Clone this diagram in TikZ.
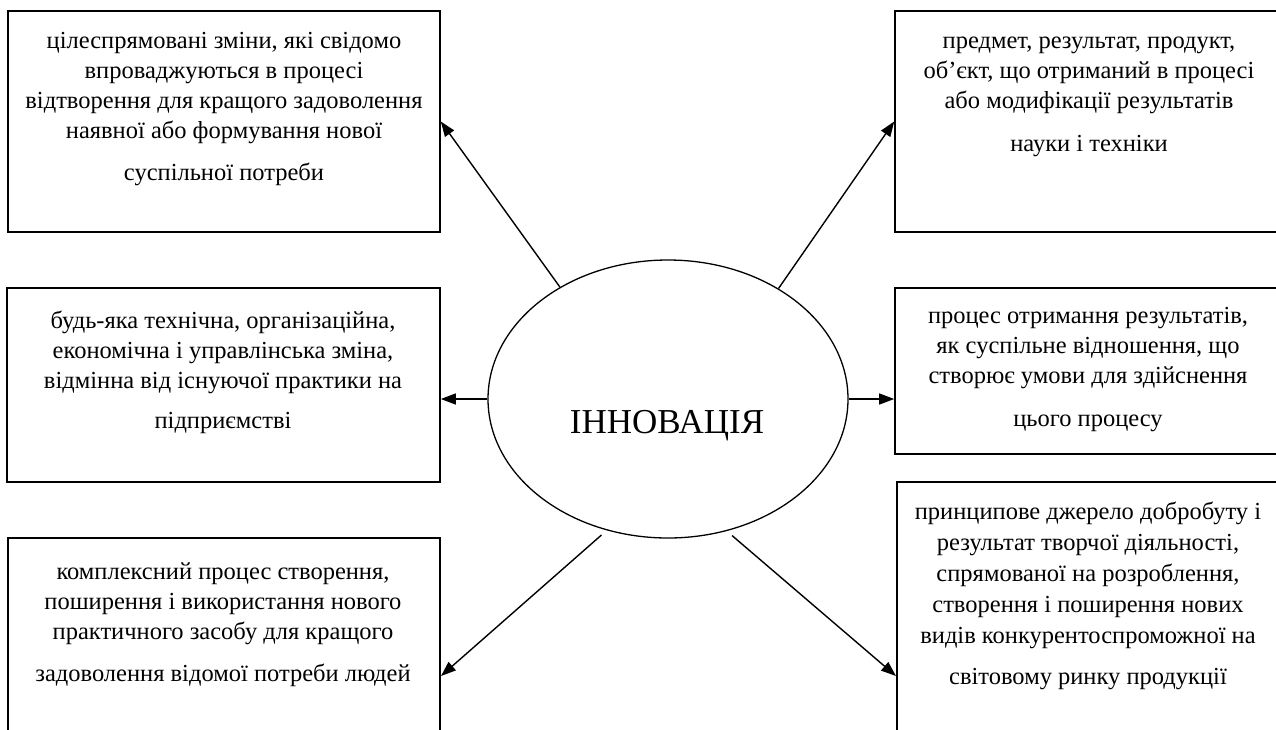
\documentclass[tikz,border=0pt]{standalone}
\usepackage{fontspec}
\setmainfont{Liberation Serif}
\usetikzlibrary{arrows.meta,shapes.geometric}
\begin{document}
\begin{tikzpicture}[x=1pt,y=-1pt,
  box/.style={draw,line width=1.6pt,inner sep=0pt},
  txt/.style={anchor=north,inner sep=0pt,align=center,
    font=\fontsize{24.5}{30}\selectfont},
  conn/.style={line width=1.4pt,-{Triangle[length=15pt,width=11pt]}}]
\useasboundingbox (0,0) rectangle (1276,729);

% central ellipse and its title
\node[ellipse,draw,line width=1.3pt,minimum width=360pt,minimum height=278pt,inner sep=0pt] (ell) at (668,399) {};
\node[anchor=base,inner sep=0pt,font=\fontsize{35}{40}\selectfont] (ttl) at (667,433) {ІННОВАЦІЯ};

% surrounding definition boxes
\node[box,minimum width=432pt,minimum height=221pt] (tl) at (224,121.5) {};
\node[box,minimum width=388pt,minimum height=221pt] (tr) at (1089,121.5) {};
\node[box,minimum width=433pt,minimum height=194pt] (ml) at (223.5,385) {};
\node[box,minimum width=388pt,minimum height=166pt] (mr) at (1089,371) {};
\node[box,minimum width=432pt,minimum height=222pt] (bl) at (224,649) {};
\node[box,minimum width=386pt,minimum height=278pt] (br) at (1090,621) {};

% box texts
\node[txt] (tlt) at (224,27) {\strut цілеспрямовані зміни, які свідомо\\впроваджуються в процесі\\відтворення для кращого задоволення\\наявної або формування нової\\[12pt]суспільної потреби};
\node[txt] (trt) at (1089,27) {\strut предмет, результат, продукт,\\об’єкт, що отриманий в процесі\\або модифікації результатів\\[13pt]науки і техніки};
\node[txt] (mlt) at (223,307) {\strut будь-яка технічна, організаційна,\\економічна і управлінська зміна,\\відмінна від існуючої практики на\\[10pt]підприємстві};
\node[txt] (mrt) at (1088,302) {\strut процес отримання результатів,\\як суспільне відношення, що\\створює умови для здійснення\\[13pt]цього процесу};
\node[txt] (blt) at (223,558) {\strut комплексний процес створення,\\поширення і використання нового\\практичного засобу для кращого\\[12pt]задоволення відомої потреби людей};
\node[txt,font=\fontsize{24.5}{31}\selectfont] (brt) at (1088,498) {\strut принципове джерело добробуту і\\результат творчої діяльності,\\спрямованої на розроблення,\\створення і поширення нових\\видів конкурентоспроможної на\\[10pt]світовому ринку продукції};

% arrow end points on the lower boxes
\coordinate (llt) at (441,676);
\coordinate (lrt) at (896,676);

% connectors
\draw[conn] (ell.134) -- (tl.east);
\draw[conn] (ell.45.5) -- (tr.west);
\draw[conn] (ell.west) -- (ell.west -| ml.east);
\draw[conn] (ell.east) -- (ell.east -| mr.west);
\draw[conn,shorten <=7pt] (ell.245) -- (llt);
\draw[conn,shorten <=7pt] (ell.294) -- (lrt);
\end{tikzpicture}
\end{document}
